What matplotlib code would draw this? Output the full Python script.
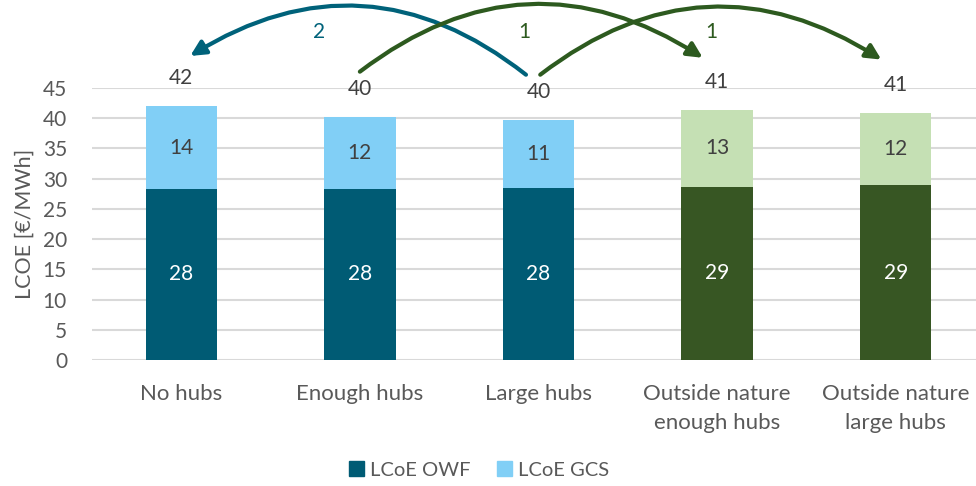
import matplotlib
matplotlib.use("Agg")
import matplotlib.pyplot as plt
from matplotlib.patches import Patch
import numpy as np

categories = ["No hubs", "Enough hubs", "Large hubs", "Outside nature\nenough hubs", "Outside nature\nlarge hubs"]
owf = [28.3, 28.3, 28.4, 28.7, 28.9]
gcs = [13.7, 11.9, 11.3, 12.7, 12.0]
arrow_from = [2, 1, 2]
arrow_to = [0, 3, 4]
arrow_labels = ["2", "1", "1"]

plt.rcParams['font.family'] = ['Lato', 'DejaVu Sans']
TXT = '#595959'
c_owf = ['#005b74', '#005b74', '#005b74', '#375623', '#375623']
c_gcs = ['#81cff6', '#81cff6', '#81cff6', '#c5e0b4', '#c5e0b4']

fig = plt.figure(figsize=(9.76, 4.86), dpi=100)
ax = fig.add_axes([92/976, 1-360/486, 1-92/976, (360-88)/486])
x = np.arange(len(categories))
w = 0.4
ax.bar(x, owf, w, color=c_owf, zorder=3)
ax.bar(x, gcs, w, bottom=owf, color=c_gcs, zorder=3)
tot = [a + b for a, b in zip(owf, gcs)]
for i in range(len(x)):
    ax.text(x[i], owf[i]/2, f"{owf[i]:.0f}", ha='center', va='center', color='white', fontsize=15)
    ax.text(x[i], owf[i] + gcs[i]/2, f"{gcs[i]:.0f}", ha='center', va='center', color='#404040', fontsize=15)
    ax.text(x[i], tot[i] + 3.0, f"{tot[i]:.0f}", ha='center', va='bottom', color='#404040', fontsize=15, clip_on=False)

ax.set_xlim(-0.5, 4.45)
ax.set_ylim(0, 45)
ax.set_yticks(np.arange(0, 46, 5))
ax.set_xticks(x)
ax.set_xticklabels(categories, fontsize=16, color=TXT, linespacing=1.6)
ax.tick_params(axis='y', labelsize=15, colors=TXT, length=0, pad=18)
ax.tick_params(axis='x', length=0, pad=17)
ax.yaxis.grid(True, color='#d9d9d9', lw=1.5, zorder=0)
for s in ax.spines.values():
    s.set_visible(False)
ax.set_ylabel("LCOE [€/MWh]", fontsize=15.5, color=TXT, labelpad=6)

arrow_colors = ['#00627a', '#2d5a1f', '#2d5a1f']
start_x = [1.93, 1.0, 2.01]
end_x = [0.05, 2.92, 3.92]
starts_y = [47.2, 47.7, 47.2]
ends_y = [50.3, 50.0, 49.7]
label_dx = [-0.23, -0.08, -0.03]
for k, (a, b, lab) in enumerate(zip(arrow_from, arrow_to, arrow_labels)):
    rad = 0.35 if b < a else -0.35
    ax.annotate("", xy=(end_x[k], ends_y[k]), xytext=(start_x[k], starts_y[k]),
                arrowprops=dict(arrowstyle='-|>,head_length=0.9,head_width=0.45',
                                connectionstyle=f"arc3,rad={rad}",
                                color=arrow_colors[k], lw=3, shrinkA=0, shrinkB=0),
                annotation_clip=False)
    mx = (a + b) / 2
    ax.text(mx + label_dx[k], 54.3, lab, ha='center', va='center', fontsize=15,
            color=arrow_colors[k], clip_on=False)

handles = [Patch(color='#005b74', label='LCoE OWF'), Patch(color='#81cff6', label='LCoE GCS')]
leg = fig.legend(handles=handles, loc='center', bbox_to_anchor=(479/976, 1-470/486), ncol=2,
                 frameon=False, fontsize=14.5, handlelength=0.75, handleheight=0.75,
                 handletextpad=0.3, columnspacing=1.3)
for t in leg.get_texts():
    t.set_color(TXT)

fig.savefig("out.png", dpi=100)
